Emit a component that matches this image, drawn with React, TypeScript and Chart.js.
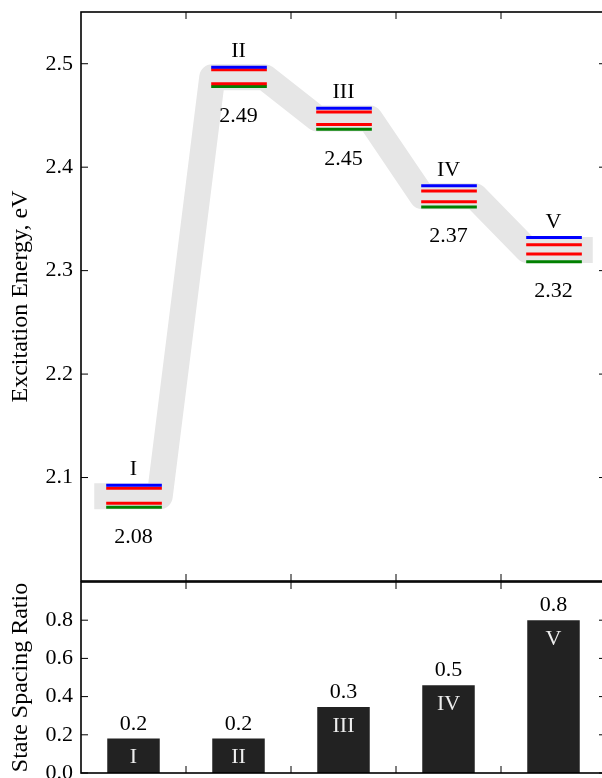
import React, { useEffect, useRef } from "react";
import { Chart, registerables } from "chart.js";

Chart.register(...registerables);

// ---------- data ----------
const stateNames = ["I", "II", "III", "IV", "V"];
const blueLevels = [2.0925, 2.4967, 2.4569, 2.3821, 2.332];
const redUpperLevels = [2.0897, 2.4942, 2.4534, 2.377, 2.325];
const redLowerLevels = [2.0751, 2.4807, 2.4412, 2.3667, 2.316];
const greenLevels = [2.0714, 2.4781, 2.4367, 2.3616, 2.3086];
const bandCenters = [2.082, 2.487, 2.447, 2.372, 2.32];
const energyLabels = ["2.08", "2.49", "2.45", "2.37", "2.32"];
const spacingRatios = [0.18, 0.18, 0.345, 0.46, 0.8];
const ratioLabels = ["0.2", "0.2", "0.3", "0.5", "0.8"];
const energyTicks = [2.1, 2.2, 2.3, 2.4, 2.5];
const ratioTicks = [0, 0.2, 0.4, 0.6, 0.8];
const stateBoundaries = [1, 2, 3, 4];

// ---------- style ----------
const FONT = "Liberation Serif";
const TEXT_SIZE = 22;
const TITLE_SIZE = 24;
const LEVEL_START = 0.24;
const LEVEL_END = 0.77;
const BAND_START = 0.25;
const BAND_END = 0.75;
const TICK_LEN = 7;

function levelData(values: number[]) {
  const pts: any[] = [];
  values.forEach((v, i) => {
    pts.push({ x: i + LEVEL_START, y: v }, { x: i + LEVEL_END, y: v }, { x: i + 1, y: null });
  });
  return pts;
}

function bandData(values: number[]) {
  const pts: any[] = [];
  values.forEach((v, i) => {
    pts.push({ x: i + BAND_START, y: v }, { x: i + BAND_END, y: v });
  });
  return pts;
}

function framePlugin(xPixels: (c: any) => number[], yValues: number[]) {
  return {
    id: "frame",
    afterDraw(chart: any) {
      const { ctx, chartArea } = chart;
      const { left, right, top, bottom } = chartArea;
      const ys = chart.scales.y;
      ctx.save();
      ctx.strokeStyle = "#000";
      ctx.lineWidth = 1;
      ctx.beginPath();
      for (const px of xPixels(chart)) {
        ctx.moveTo(px, top);
        ctx.lineTo(px, top + TICK_LEN);
        ctx.moveTo(px, bottom);
        ctx.lineTo(px, bottom - TICK_LEN);
      }
      for (const v of yValues) {
        const py = ys.getPixelForValue(v);
        ctx.moveTo(left, py);
        ctx.lineTo(left + TICK_LEN, py);
        ctx.moveTo(right, py);
        ctx.lineTo(right - TICK_LEN, py);
      }
      ctx.stroke();
      ctx.lineWidth = 1.6;
      ctx.strokeRect(left, top, right - left, bottom - top);
      ctx.restore();
    },
  };
}

const fixAxis = (width: number) => (scale: any) => {
  scale.width = width;
  scale.paddingTop = 0;
  scale.paddingBottom = 0;
};

export default function App() {
  const topRef = useRef<HTMLCanvasElement>(null);
  const botRef = useRef<HTMLCanvasElement>(null);

  useEffect(() => {
    const topLabels = {
      id: "topLabels",
      afterDatasetsDraw(chart: any) {
        const { ctx } = chart;
        const x = chart.scales.x;
        const y = chart.scales.y;
        ctx.save();
        ctx.font = `${TEXT_SIZE}px "${FONT}"`;
        ctx.fillStyle = "#000";
        ctx.textAlign = "center";
        ctx.textBaseline = "alphabetic";
        stateNames.forEach((n, i) => {
          const cx = x.getPixelForValue(i + 0.5);
          ctx.fillText(n, cx, y.getPixelForValue(blueLevels[i]) - 10);
          ctx.fillText(energyLabels[i], cx, y.getPixelForValue(greenLevels[i]) + 35.5);
        });
        ctx.restore();
      },
    };

    const botLabels = {
      id: "botLabels",
      afterDatasetsDraw(chart: any) {
        const { ctx } = chart;
        const x = chart.scales.x;
        const y = chart.scales.y;
        ctx.save();
        ctx.font = `${TEXT_SIZE}px "${FONT}"`;
        ctx.textAlign = "center";
        ctx.textBaseline = "alphabetic";
        spacingRatios.forEach((v, i) => {
          const cx = x.getPixelForValue(i);
          const py = y.getPixelForValue(v);
          ctx.fillStyle = "#000";
          ctx.fillText(ratioLabels[i], cx, py - 9);
          ctx.fillStyle = "#eeeeee";
          ctx.fillText(stateNames[i], cx, py + 24.5);
        });
        ctx.restore();
      },
    };

    const yTickCommon = {
      font: { family: FONT, size: TEXT_SIZE },
      color: "#000",
      padding: 8,
      callback: (v: any) => Number(v).toFixed(1),
    };

    const top = new Chart(topRef.current!, {
      type: "line",
      data: {
        datasets: [
          {
            data: levelData(blueLevels),
            borderColor: "#0000ff",
            borderWidth: 3,
            pointRadius: 0,
            borderCapStyle: "butt",
            order: 0,
          },
          {
            data: levelData(redUpperLevels),
            borderColor: "#ff0000",
            borderWidth: 3,
            pointRadius: 0,
            borderCapStyle: "butt",
            order: 0,
          },
          {
            data: levelData(redLowerLevels),
            borderColor: "#ff0000",
            borderWidth: 3,
            pointRadius: 0,
            borderCapStyle: "butt",
            order: 0,
          },
          {
            data: levelData(greenLevels),
            borderColor: "#008000",
            borderWidth: 3,
            pointRadius: 0,
            borderCapStyle: "butt",
            order: 0,
          },
          {
            data: bandData(bandCenters),
            borderColor: "#e6e6e6",
            borderWidth: 26,
            pointRadius: 0,
            borderJoinStyle: "round",
            borderCapStyle: "square",
            tension: 0,
            order: 10,
          },
        ] as any,
      },
      options: {
        responsive: false,
        maintainAspectRatio: false,
        animation: false,
        devicePixelRatio: 1,
        layout: { padding: { left: 0, top: 12, right: 14, bottom: 9 } },
        plugins: { legend: { display: false }, tooltip: { enabled: false } },
        scales: {
          x: { type: "linear", min: 0, max: 5, display: false },
          y: {
            type: "linear",
            min: 2.0,
            max: 2.55,
            afterBuildTicks: (s: any) => {
              s.ticks = energyTicks.map((v) => ({ value: v }));
            },
            afterFit: fixAxis(81),
            ticks: yTickCommon,
            grid: { display: false, drawTicks: false },
            border: { display: false },
            title: {
              display: true,
              text: "Excitation Energy, eV",
              font: { family: FONT, size: TITLE_SIZE },
              color: "#000",
              padding: { top: 6, bottom: 0 },
            },
          },
        } as any,
      },
      plugins: [
        topLabels,
        framePlugin(
          (c: any) => stateBoundaries.map((v) => c.scales.x.getPixelForValue(v)),
          energyTicks
        ),
      ],
    });

    const bot = new Chart(botRef.current!, {
      type: "bar",
      data: {
        labels: stateNames,
        datasets: [
          {
            data: spacingRatios,
            backgroundColor: "#222222",
            borderWidth: 0,
            barPercentage: 0.5,
            categoryPercentage: 1,
          },
        ],
      },
      options: {
        responsive: false,
        maintainAspectRatio: false,
        animation: false,
        devicePixelRatio: 1,
        layout: { padding: { left: 0, top: 7, right: 14, bottom: 17 } },
        plugins: { legend: { display: false }, tooltip: { enabled: false } },
        scales: {
          x: { type: "category", display: false },
          y: {
            type: "linear",
            min: 0,
            max: 1.0,
            afterBuildTicks: (s: any) => {
              s.ticks = ratioTicks.map((v) => ({ value: v }));
            },
            afterFit: fixAxis(81),
            ticks: yTickCommon,
            grid: { display: false, drawTicks: false },
            border: { display: false },
            title: {
              display: true,
              text: "State Spacing Ratio",
              font: { family: FONT, size: TITLE_SIZE },
              color: "#000",
              padding: { top: 6, bottom: 0 },
            },
          },
        } as any,
      },
      plugins: [
        botLabels,
        framePlugin(
          (c: any) =>
            stateBoundaries.map(
              (k) => (c.scales.x.getPixelForValue(k - 1) + c.scales.x.getPixelForValue(k)) / 2
            ),
          ratioTicks
        ),
      ],
    });

    return () => {
      top.destroy();
      bot.destroy();
    };
  }, []);

  return (
    <div
      style={{
        position: "fixed",
        left: 0,
        top: 0,
        width: 602,
        height: 778,
        overflow: "hidden",
        background: "#fff",
      }}
    >
      <canvas
        ref={topRef}
        width={620}
        height={590}
        style={{ position: "absolute", left: 0, top: 0, width: 620, height: 590 }}
      />
      <canvas
        ref={botRef}
        width={620}
        height={215}
        style={{ position: "absolute", left: 0, top: 575, width: 620, height: 215 }}
      />
    </div>
  );
}
